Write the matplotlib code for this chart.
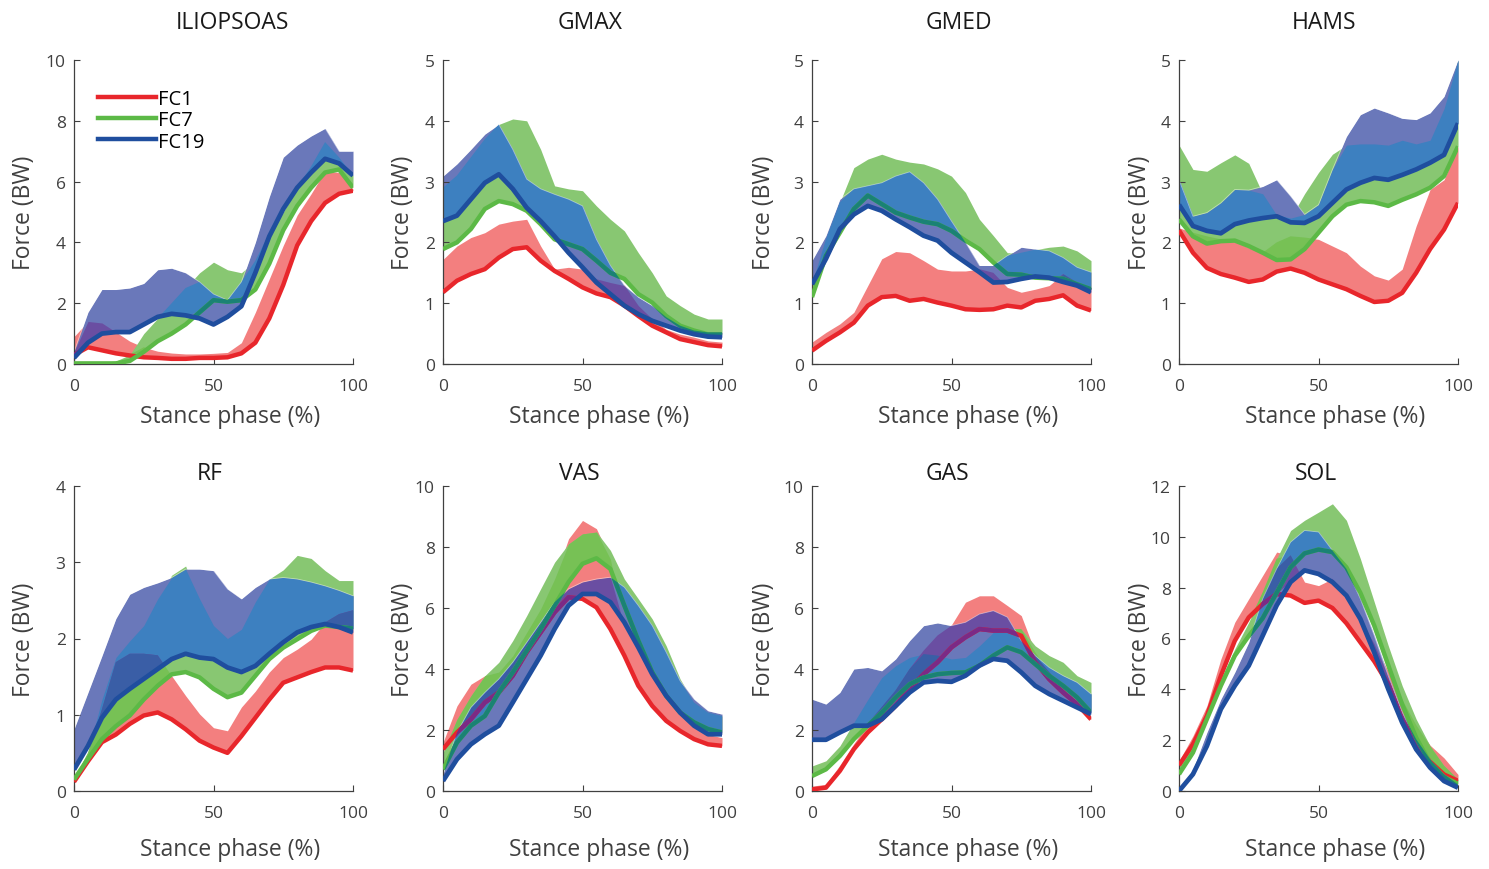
import numpy as np
import matplotlib
matplotlib.use("Agg")
import matplotlib.pyplot as plt
from matplotlib.lines import Line2D

plt.rcParams['font.family'] = ['Open Sans', 'DejaVu Sans']

# stance phase samples (%)
x = np.arange(0, 101, 5)

# ---- ILIOPSOAS ----
ilio_fc1 = [0.3, 0.55, 0.45, 0.35, 0.28, 0.22, 0.2, 0.17, 0.17, 0.2, 0.2, 0.22, 0.35, 0.7, 1.5, 2.6, 3.9, 4.7, 5.3, 5.6, 5.7]
ilio_fc1_b = [0.9, 1.4, 1.35, 1.05, 0.75, 0.55, 0.42, 0.36, 0.33, 0.33, 0.35, 0.38, 0.7, 1.7, 2.8, 3.9, 4.9, 5.6, 6.35, 6.3, 5.75]
ilio_fc7 = [0.02, 0.02, 0.02, 0.02, 0.1, 0.4, 0.75, 1.0, 1.3, 1.7, 2.1, 2.05, 2.1, 2.45, 3.3, 4.4, 5.2, 5.8, 6.3, 6.4, 5.8]
ilio_fc7_b = [0.05, 0.05, 0.05, 0.1, 0.3, 1.0, 1.5, 2.0, 2.5, 3.0, 3.35, 3.1, 3.0, 3.4, 4.3, 5.0, 5.8, 6.5, 7.3, 6.8, 6.2]
ilio_fc19 = [0.2, 0.7, 1.0, 1.05, 1.05, 1.3, 1.55, 1.65, 1.6, 1.5, 1.3, 1.55, 1.9, 3.0, 4.2, 5.1, 5.8, 6.3, 6.75, 6.6, 6.2]
ilio_fc19_b = [0.4, 1.7, 2.45, 2.45, 2.5, 2.65, 3.1, 3.15, 3.0, 2.7, 2.3, 2.1, 2.7, 4.0, 5.5, 6.8, 7.2, 7.5, 7.75, 7.0, 7.0]

# ---- GMAX ----
gmax_fc1 = [1.18, 1.37, 1.48, 1.56, 1.75, 1.89, 1.92, 1.7, 1.53, 1.4, 1.26, 1.16, 1.1, 0.96, 0.79, 0.63, 0.52, 0.41, 0.36, 0.31, 0.29]
gmax_fc1_b = [1.72, 1.94, 2.08, 2.16, 2.3, 2.35, 2.38, 1.94, 1.56, 1.59, 1.56, 1.4, 1.34, 1.3, 0.96, 0.74, 0.57, 0.49, 0.44, 0.38, 0.36]
gmax_fc7 = [1.89, 2.0, 2.22, 2.55, 2.68, 2.63, 2.52, 2.3, 2.05, 1.97, 1.89, 1.7, 1.5, 1.4, 1.15, 1.01, 0.79, 0.63, 0.55, 0.49, 0.49]
gmax_fc7_b = [2.9, 3.1, 3.4, 3.7, 3.94, 4.03, 4.0, 3.53, 2.93, 2.88, 2.85, 2.6, 2.38, 2.19, 1.83, 1.5, 1.12, 0.96, 0.82, 0.74, 0.74]
gmax_fc19 = [2.35, 2.44, 2.71, 2.98, 3.12, 2.88, 2.57, 2.35, 2.1, 1.83, 1.59, 1.34, 1.15, 0.96, 0.82, 0.71, 0.63, 0.55, 0.49, 0.45, 0.44]
gmax_fc19_b = [3.09, 3.29, 3.53, 3.78, 3.94, 3.53, 3.04, 2.88, 2.79, 2.71, 2.6, 2.05, 1.62, 1.29, 1.1, 0.96, 0.77, 0.63, 0.55, 0.52, 0.52]

# ---- GMED ----
gmed_fc1 = [0.22, 0.38, 0.52, 0.68, 0.96, 1.1, 1.12, 1.04, 1.07, 1.01, 0.96, 0.9, 0.89, 0.9, 0.96, 0.93, 1.04, 1.07, 1.13, 0.96, 0.88]
gmed_fc1_b = [0.36, 0.52, 0.66, 0.85, 1.29, 1.73, 1.85, 1.83, 1.7, 1.56, 1.53, 1.53, 1.56, 1.5, 1.26, 1.18, 1.23, 1.29, 1.48, 1.34, 1.26]
gmed_fc7 = [1.1, 1.78, 2.16, 2.55, 2.77, 2.63, 2.49, 2.41, 2.34, 2.3, 2.19, 2.03, 1.89, 1.67, 1.48, 1.47, 1.42, 1.41, 1.4, 1.31, 1.23]
gmed_fc7_b = [1.29, 2.05, 2.66, 3.23, 3.37, 3.45, 3.37, 3.32, 3.29, 3.21, 3.09, 2.82, 2.38, 2.11, 1.83, 1.83, 1.88, 1.92, 1.94, 1.86, 1.7]
gmed_fc19 = [1.31, 1.73, 2.22, 2.46, 2.6, 2.52, 2.38, 2.25, 2.11, 2.03, 1.83, 1.67, 1.51, 1.34, 1.35, 1.4, 1.44, 1.42, 1.35, 1.29, 1.18]
gmed_fc19_b = [1.7, 2.11, 2.71, 2.88, 2.93, 2.98, 3.09, 3.16, 2.98, 2.71, 2.35, 2.0, 1.62, 1.62, 1.78, 1.92, 1.89, 1.86, 1.75, 1.59, 1.51]

# ---- HAMS ----
hams_fc1 = [2.2, 1.83, 1.58, 1.48, 1.42, 1.35, 1.39, 1.52, 1.57, 1.5, 1.39, 1.31, 1.23, 1.12, 1.02, 1.04, 1.17, 1.5, 1.89, 2.21, 2.65]
hams_fc1_b = [2.24, 2.16, 2.1, 2.05, 2.02, 1.91, 1.83, 2.0, 2.1, 2.08, 2.05, 1.94, 1.83, 1.61, 1.45, 1.38, 1.56, 2.27, 2.87, 3.03, 3.58]
hams_fc7 = [2.38, 2.1, 1.98, 2.02, 2.03, 1.94, 1.83, 1.71, 1.72, 1.89, 2.16, 2.43, 2.62, 2.68, 2.66, 2.6, 2.7, 2.79, 2.9, 3.09, 3.58]
hams_fc7_b = [3.6, 3.2, 3.17, 3.31, 3.44, 3.3, 2.8, 2.45, 2.4, 2.8, 3.15, 3.45, 3.6, 3.62, 3.62, 3.6, 3.68, 3.62, 3.68, 4.2, 5.0]
hams_fc19 = [2.62, 2.27, 2.19, 2.15, 2.3, 2.36, 2.4, 2.43, 2.33, 2.32, 2.43, 2.65, 2.87, 2.98, 3.06, 3.03, 3.11, 3.2, 3.31, 3.44, 3.96]
hams_fc19_b = [3.03, 2.43, 2.49, 2.65, 2.87, 2.86, 2.92, 3.03, 2.76, 2.46, 2.62, 3.2, 3.74, 4.1, 4.21, 4.13, 4.04, 4.02, 4.13, 4.4, 5.0]

# ---- RF ----
rf_fc1 = [0.12, 0.39, 0.64, 0.74, 0.88, 0.99, 1.03, 0.94, 0.81, 0.66, 0.57, 0.5, 0.72, 0.96, 1.2, 1.42, 1.49, 1.56, 1.62, 1.62, 1.58]
rf_fc1_b = [0.15, 0.5, 1.07, 1.69, 1.8, 1.8, 1.78, 1.51, 1.25, 1.01, 0.83, 0.79, 1.1, 1.31, 1.56, 1.75, 1.86, 1.99, 2.21, 2.32, 2.37]
rf_fc7 = [0.15, 0.42, 0.68, 0.85, 0.99, 1.2, 1.38, 1.53, 1.56, 1.49, 1.34, 1.23, 1.29, 1.51, 1.73, 1.88, 1.99, 2.1, 2.17, 2.15, 2.13]
rf_fc7_b = [0.18, 0.5, 1.2, 1.75, 1.97, 2.17, 2.52, 2.83, 2.95, 2.52, 2.17, 2.0, 2.12, 2.48, 2.78, 2.9, 3.09, 3.05, 2.89, 2.76, 2.76]
rf_fc19 = [0.28, 0.59, 0.96, 1.2, 1.34, 1.47, 1.6, 1.73, 1.8, 1.75, 1.73, 1.62, 1.56, 1.64, 1.8, 1.95, 2.08, 2.15, 2.19, 2.15, 2.08]
rf_fc19_b = [0.81, 1.29, 1.77, 2.26, 2.58, 2.67, 2.73, 2.8, 2.91, 2.91, 2.89, 2.65, 2.52, 2.67, 2.78, 2.8, 2.78, 2.74, 2.69, 2.63, 2.56]

# ---- VAS ----
vas_fc1 = [1.37, 1.92, 2.35, 2.9, 3.23, 3.78, 4.55, 5.2, 5.86, 6.35, 6.3, 6.02, 5.31, 4.44, 3.45, 2.79, 2.3, 1.97, 1.7, 1.53, 1.48]
vas_fc1_b = [1.59, 2.79, 3.5, 3.78, 3.9, 4.43, 5.2, 5.97, 6.95, 8.27, 8.87, 8.6, 7.6, 5.4, 4.6, 3.75, 3.05, 2.5, 2.1, 1.85, 1.75]
vas_fc7 = [0.71, 1.59, 2.14, 2.46, 3.23, 3.89, 4.6, 5.31, 6.08, 6.85, 7.45, 7.63, 7.28, 6.08, 4.93, 3.89, 3.12, 2.57, 2.25, 2.03, 1.92]
vas_fc7_b = [1.26, 2.35, 3.12, 3.78, 4.22, 4.93, 5.75, 6.63, 7.5, 8.1, 8.43, 8.49, 7.89, 6.95, 6.3, 5.64, 4.76, 3.67, 2.9, 2.57, 2.46]
vas_fc19 = [0.33, 1.04, 1.53, 1.86, 2.14, 2.9, 3.67, 4.44, 5.31, 6.08, 6.46, 6.46, 6.19, 5.53, 4.71, 3.83, 3.12, 2.57, 2.14, 1.86, 1.86]
vas_fc19_b = [0.55, 1.92, 2.74, 3.23, 3.67, 4.22, 4.87, 5.53, 6.19, 6.63, 6.85, 6.95, 7.01, 6.68, 6.08, 5.42, 4.55, 3.61, 3.01, 2.63, 2.52]

# ---- GAS ----
gas_fc1 = [0.05, 0.11, 0.66, 1.37, 1.92, 2.35, 2.79, 3.34, 3.83, 4.22, 4.71, 5.04, 5.31, 5.26, 5.26, 5.09, 4.22, 3.67, 3.23, 2.85, 2.35]
gas_fc1_b = [0.16, 0.22, 0.85, 1.55, 2.2, 2.75, 3.3, 4.0, 4.6, 5.1, 5.45, 6.19, 6.4, 6.4, 6.08, 5.75, 4.55, 3.9, 3.35, 2.95, 2.45]
gas_fc7 = [0.49, 0.71, 1.15, 1.7, 2.14, 2.57, 3.07, 3.5, 3.72, 3.83, 3.87, 3.89, 4.11, 4.44, 4.71, 4.55, 4.16, 3.78, 3.45, 3.07, 2.57]
gas_fc7_b = [0.82, 0.99, 1.48, 2.25, 3.0, 3.72, 4.11, 4.38, 4.49, 4.44, 4.33, 4.38, 4.76, 5.2, 5.31, 5.31, 4.76, 4.44, 4.22, 3.78, 3.56]
gas_fc19 = [1.68, 1.68, 1.92, 2.14, 2.14, 2.35, 2.79, 3.23, 3.56, 3.61, 3.58, 3.78, 4.11, 4.33, 4.27, 3.89, 3.45, 3.18, 2.96, 2.74, 2.52]
gas_fc19_b = [3.01, 2.85, 3.23, 4.0, 4.05, 3.94, 4.33, 4.93, 5.42, 5.51, 5.42, 5.53, 5.8, 5.91, 5.7, 4.93, 4.44, 4.05, 3.78, 3.56, 3.18]

# ---- SOL ----
sol_fc1 = [1.01, 1.84, 2.96, 4.53, 5.91, 6.83, 7.36, 7.75, 7.69, 7.4, 7.49, 7.2, 6.6, 5.85, 5.1, 4.2, 2.8, 1.85, 1.15, 0.65, 0.4]
sol_fc1_b = [1.18, 2.17, 3.35, 5.19, 6.64, 7.56, 8.48, 9.4, 9.27, 8.22, 8.08, 8.35, 7.56, 6.7, 5.8, 4.7, 3.6, 2.6, 1.8, 1.3, 0.65]
sol_fc7 = [0.66, 1.51, 2.83, 4.14, 5.32, 6.1, 6.8, 7.8, 8.8, 9.35, 9.5, 9.4, 8.8, 7.8, 6.5, 4.95, 3.4, 2.1, 1.1, 0.55, 0.28]
sol_fc7_b = [0.99, 1.77, 2.96, 4.4, 5.59, 6.64, 7.82, 9.14, 10.25, 10.65, 10.97, 11.3, 10.65, 9.14, 7.43, 5.72, 4.14, 2.83, 1.77, 0.99, 0.46]
sol_fc19 = [0.0, 0.66, 1.77, 3.22, 4.14, 4.93, 6.11, 7.3, 8.22, 8.68, 8.54, 8.22, 7.69, 6.77, 5.45, 4.01, 2.69, 1.64, 0.92, 0.39, 0.13]
sol_fc19_b = [0.07, 0.85, 2.3, 3.61, 4.67, 5.85, 7.56, 8.74, 9.79, 10.25, 10.19, 9.46, 8.74, 7.56, 6.11, 4.53, 3.09, 2.04, 1.25, 0.66, 0.26]

titles = ["ILIOPSOAS", "GMAX", "GMED", "HAMS", "RF", "VAS", "GAS", "SOL"]
ymax = [10, 5, 5, 5, 4, 10, 10, 12]
ystep = [2, 1, 1, 1, 1, 2, 2, 2]
series = [
    (ilio_fc1, ilio_fc1_b, ilio_fc7, ilio_fc7_b, ilio_fc19, ilio_fc19_b),
    (gmax_fc1, gmax_fc1_b, gmax_fc7, gmax_fc7_b, gmax_fc19, gmax_fc19_b),
    (gmed_fc1, gmed_fc1_b, gmed_fc7, gmed_fc7_b, gmed_fc19, gmed_fc19_b),
    (hams_fc1, hams_fc1_b, hams_fc7, hams_fc7_b, hams_fc19, hams_fc19_b),
    (rf_fc1, rf_fc1_b, rf_fc7, rf_fc7_b, rf_fc19, rf_fc19_b),
    (vas_fc1, vas_fc1_b, vas_fc7, vas_fc7_b, vas_fc19, vas_fc19_b),
    (gas_fc1, gas_fc1_b, gas_fc7, gas_fc7_b, gas_fc19, gas_fc19_b),
    (sol_fc1, sol_fc1_b, sol_fc7, sol_fc7_b, sol_fc19, sol_fc19_b),
]
labels = ["FC1", "FC7", "FC19"]

# colours
red_line, green_line, blue_line = "#e8262b", "#5cb946", "#1f4e9e"
red_fill, green_fill, blue_fill = "#f37f7f", "#88c772", "#6a78ba"
gr_fill, bg_fill, br_fill, all_fill = "#77c155", "#3d80c0", "#6a4ea2", "#3a5ea6"
red_tint, green_tint = "#7b2a86", "#1a8274"
axcol = "#404040"

# label / title placement (pixels relative to the axes)
ylab_off = [-38, -28, -36, -27]
title_dx = [19, 8, 7, 6, -4, -3, -4, -3]


def span(a, b):
    a = np.asarray(a, float)
    b = np.asarray(b, float)
    return np.minimum(a, b), np.maximum(a, b)


def overlap(ax, bands, color, z):
    lo = np.max([s[0] for s in bands], axis=0)
    hi = np.min([s[1] for s in bands], axis=0)
    ax.fill_between(x, lo, hi, where=hi > lo, interpolate=True,
                    color=color, lw=0, zorder=z)


fig = plt.figure(figsize=(14.89, 8.70), dpi=100)
lefts = [74, 443, 812, 1179]

for i in range(8):
    row, col = divmod(i, 4)
    if row == 0:
        rect = [lefts[col] / 1489, 505 / 870, 279 / 1489, 304 / 870]
    else:
        rect = [lefts[col] / 1489, 78 / 870, 279 / 1489, 305 / 870]
    ax = fig.add_axes(rect)
    f1, f1b, f7, f7b, f19, f19b = series[i]
    r, g, b = span(f1, f1b), span(f7, f7b), span(f19, f19b)

    ax.fill_between(x, r[0], r[1], color=red_fill, lw=0, zorder=1)
    ax.fill_between(x, g[0], g[1], color=green_fill, lw=0, zorder=1.1)
    bpoly = ax.fill_between(x, b[0], b[1], color=blue_fill, lw=0, zorder=1.2)
    overlap(ax, [g, r], gr_fill, 1.3)
    overlap(ax, [b, g], bg_fill, 1.4)
    overlap(ax, [b, r], br_fill, 1.5)
    overlap(ax, [b, g, r], all_fill, 1.6)
    ax.plot(x, f19b, color="white", lw=0.6, alpha=0.45, zorder=2)

    clip = bpoly.get_paths()[0]
    ax.plot(x, f1, color=red_line, lw=3.2, zorder=3, solid_capstyle="butt")
    t = ax.plot(x, f1, color=red_tint, lw=3.2, zorder=3.01, solid_capstyle="butt")[0]
    t.set_clip_path(clip, ax.transData)
    ax.plot(x, f7, color=green_line, lw=3.2, zorder=3.1, solid_capstyle="butt")
    t = ax.plot(x, f7, color=green_tint, lw=3.2, zorder=3.11, solid_capstyle="butt")[0]
    t.set_clip_path(clip, ax.transData)
    ax.plot(x, f19, color=blue_line, lw=3.4, zorder=3.3, solid_capstyle="butt")

    ax.set_xlim(0, 100)
    ax.set_ylim(0, ymax[i])
    ax.set_xticks([0, 50, 100])
    ax.set_yticks(np.arange(0, ymax[i] + 0.01, ystep[i]))
    for s in ["top", "right"]:
        ax.spines[s].set_visible(False)
    for s in ["left", "bottom"]:
        ax.spines[s].set_color(axcol)
        ax.spines[s].set_linewidth(0.9)
    ax.tick_params(direction="in", length=4, width=0.8, colors=axcol,
                   labelsize=12.5)
    ax.tick_params(axis="x", pad=10)
    ax.tick_params(axis="y", pad=6)
    ax.set_xlabel("Stance phase (%)", fontsize=16.5, color=axcol)
    ax.set_ylabel("Force (BW)", fontsize=16.5, color=axcol)
    ax.xaxis.set_label_coords(0.5 + 17 / 279, -0.13 if row == 0 else -0.15)
    ax.yaxis.set_label_coords(ylab_off[col] / 279, 0.5)
    ttl = ax.set_title(titles[i], fontsize=16.5, color="#1a1a1a",
                       pad=23 if row == 0 else 5)
    ttl.set_x(0.5 + title_dx[i] / 279)

    if i == 0:
        handles = [Line2D([0], [0], color=c, lw=3.2)
                   for c in (red_line, green_line, blue_line)]
        ax.legend(handles, labels, loc="upper left", bbox_to_anchor=(0.085, 0.905),
                  frameon=False, fontsize=14.5, handlelength=2.9,
                  handletextpad=0.1, labelspacing=0.05, borderpad=0,
                  borderaxespad=0, handleheight=0.9)

fig.savefig("out.png", dpi=100)
